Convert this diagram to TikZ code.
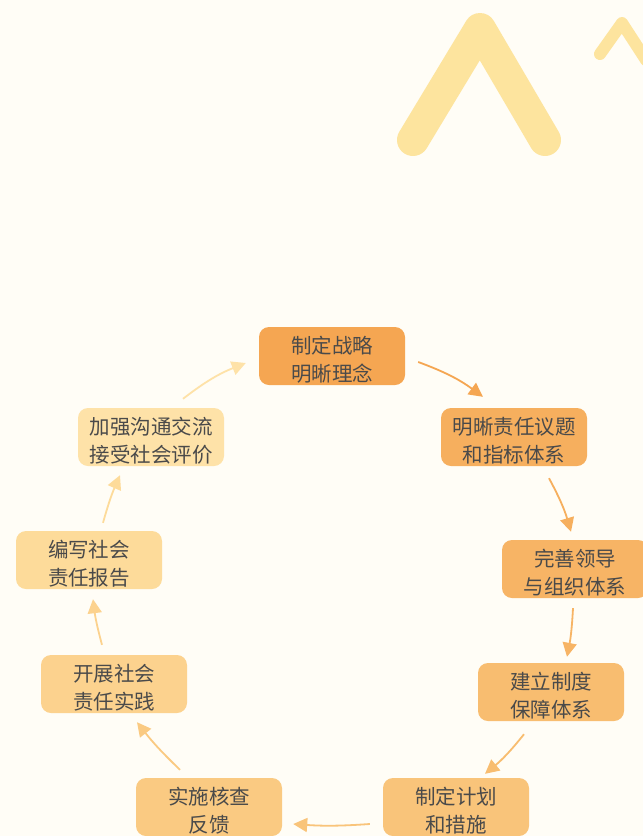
\documentclass[tikz,border=0pt]{standalone}
\usepackage{fontspec}
\setmainfont{Noto Sans CJK SC}
\usetikzlibrary{arrows.meta}
\definecolor{bg}{HTML}{FFFDF6}
\definecolor{deco}{HTML}{FDE49E}
\definecolor{txt}{HTML}{4A4A4A}
\definecolor{cA}{HTML}{F5A652}
\definecolor{cB}{HTML}{F6AF5E}
\definecolor{cC}{HTML}{F7B465}
\definecolor{cD}{HTML}{F8BD70}
\definecolor{cE}{HTML}{F9C47A}
\definecolor{cF}{HTML}{FACA82}
\definecolor{cG}{HTML}{FCD28E}
\definecolor{cH}{HTML}{FDDB9A}
\definecolor{cI}{HTML}{FEE2A8}
\newcommand{\toppad}{\rule{0pt}{25pt}}
\tikzset{
  stepbox/.style={rounded corners=10pt, minimum width=146pt, minimum height=58pt,
    inner sep=0pt, align=center, text=txt, font=\fontsize{20.5pt}{28pt}\selectfont},
  arr/.style={line width=1.8pt, -{Triangle[length=14pt,width=14pt]}},
}
\begin{document}
\begin{tikzpicture}[x=1pt,y=-1pt]
\fill[bg] (0,0) rectangle (643,836);
\useasboundingbox (0,0) rectangle (643,836);
% decorations
\draw[deco, line width=32pt, line cap=round, line join=round] (413,140) -- (480,29) -- (545,140);
\draw[deco, line width=12pt, line cap=round, line join=round] (600,54) -- (622,23) -- (646,60);
% nodes
\node[stepbox, fill=cA] (n1) at (332,356) {\toppad 制定战略\\明晰理念};
\node[stepbox, fill=cB] (n2) at (514,437) {\toppad 明晰责任议题\\和指标体系};
\node[stepbox, fill=cC] (n3) at (575,569) {\toppad 完善领导\\与组织体系};
\node[stepbox, fill=cD] (n4) at (551,692) {\toppad 建立制度\\保障体系};
\node[stepbox, fill=cE] (n5) at (456,807) {\toppad 制定计划\\和措施};
\node[stepbox, fill=cF] (n6) at (209,807) {\toppad 实施核查\\反馈};
\node[stepbox, fill=cG] (n7) at (114,684) {\toppad 开展社会\\责任实践};
\node[stepbox, fill=cH] (n8) at (89,560) {\toppad 编写社会\\责任报告};
\node[stepbox, fill=cI] (n9) at (151,437) {\toppad 加强沟通交流\\接受社会评价};
% connectors
\draw[arr, cA] ([shift={(13,6)}]n1.east) to[bend left=8] ([shift={(-31,-11)}]n2.north);
\draw[arr, cB] ([shift={(35,12)}]n2.south) to[bend left=6] ([shift={(-4,-8)}]n3.north);
\draw[arr, cC] ([shift={(-2,10)}]n3.south) to[bend left=4] ([shift={(16,-6)}]n4.north);
\draw[arr, cD] ([shift={(-27,13)}]n4.south) to[bend left=6] ([shift={(29,-4)}]n5.north);
\draw[arr, cE] ([shift={(-13,17)}]n5.west) to[bend left=4] ([shift={(11,17)}]n6.east);
\draw[arr, cF] ([shift={(-29,-8)}]n6.north) to[bend left=4] ([shift={(23,9)}]n7.south);
\draw[arr, cG] ([shift={(-12,-10)}]n7.north) to[bend left=4] ([shift={(4,10)}]n8.south);
\draw[arr, cH] ([shift={(14,-8)}]n8.north) to[bend left=4] ([shift={(-31,9)}]n9.south);
\draw[arr, cI] ([shift={(32,-9)}]n9.north) to[bend left=8] ([shift={(-13,7)}]n1.west);
\end{tikzpicture}
\end{document}
